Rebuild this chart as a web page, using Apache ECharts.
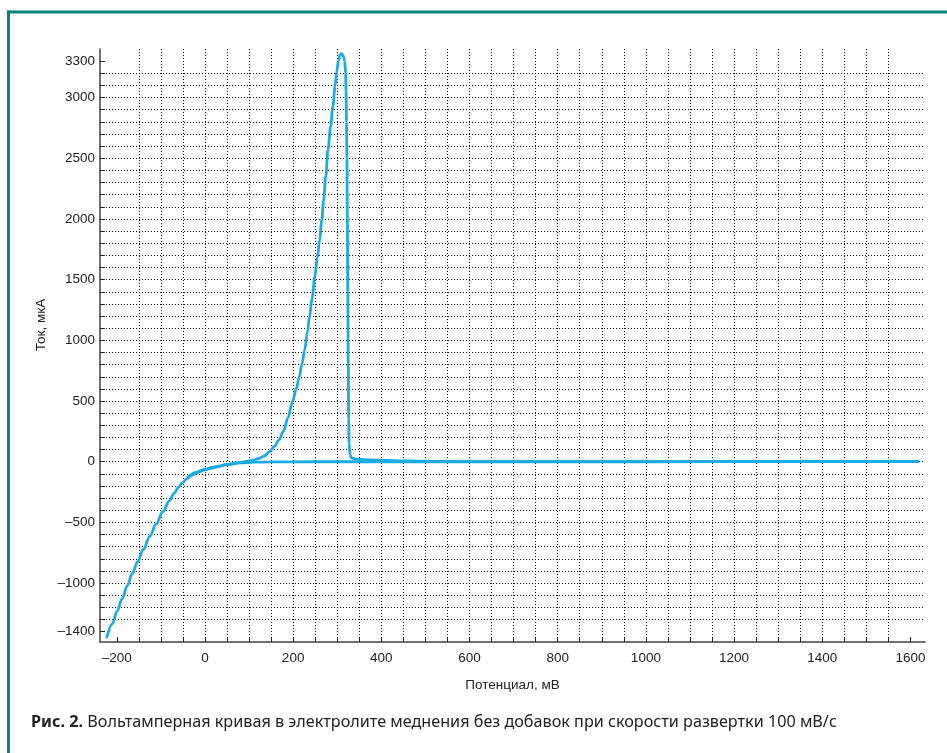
<!DOCTYPE html>
<html>
<head>
<meta charset="utf-8">
<style>html,body{margin:0;padding:0;background:#fff;}#c{width:947px;height:753px;}</style>
<script src="https://cdn.jsdelivr.net/npm/echarts@6/dist/echarts.min.js"></script>
</head>
<body>
<div id="c"></div>
<script>
// Forward scan (potential, mV) and current (µA)
const forwardPotential = [-223,-210,-199,-188,-176,-165,-153,-140,-125,-111,-95,-81,-70,-60,-51,-40,-30,-20,-10,0,15,30,50,65,80,95,110,122,135,146,158,168,178,188,199,207,214,220,226,232,237,243,249,255,260,265,269,274,279,285,290,295,299,303,306,309,312,315,317,319,320,321,322,323,324,325,326,327,329,332,340,351,375,396,430,460,495,550,650,900,1200,1620];
const forwardCurrent = [-1454,-1335,-1230,-1130,-1020,-922,-825,-725,-615,-515,-410,-322,-260,-210,-172,-137,-112,-94,-79,-67,-53,-40,-23,-13,-5,4,14,27,48,82,128,180,250,360,500,600,700,805,918,1060,1190,1350,1520,1680,1825,1990,2150,2350,2570,2760,2925,3090,3220,3305,3345,3362,3355,3330,3300,3200,3050,2800,2500,2000,1400,800,350,150,60,32,24,19,15,13,9,6,4,2,1,1,1,1];
// Reverse scan
const reversePotential = [1620,1400,1000,700,500,350,250,150,110,80,50,20,0,-20,-40];
const reverseCurrent = [1,1,0,0,0,0,0,-1,-4,-10,-24,-44,-62,-88,-133];

const xLabelValues = [-200,0,200,400,600,800,1000,1200,1400,1600];
const yLabelValues = [-1400,-1000,-500,0,500,1000,1500,2000,2500,3000,3300];
const xTickValues = []; for (let v = -200; v <= 1600; v += 50) xTickValues.push(v);
const yTickValues = []; for (let v = -1400; v <= 3300; v += 100) yTickValues.push(v);

const xTitle = 'Потенциал, мВ';
const yTitle = 'Ток, мкА';
const captionBold = 'Рис. 2.';
const captionText = ' Вольтамперная кривая в электролите меднения без добавок при скорости развертки 100 мВ/с';

const fwd = forwardPotential.map((x, i) => [x, forwardCurrent[i]]);
const rev = reversePotential.map((x, i) => [x, reverseCurrent[i]]);

const fmt = v => (v < 0 ? '–' + Math.abs(v) : String(v));
const labelFont = {fontFamily: 'Liberation Sans', fontSize: 13.5, color: '#222'};
const gridLine = {show: true, showMinLine: false, showMaxLine: false, lineStyle: {color: '#111', width: 1, type: [1, 2]}};

const chart = echarts.init(document.getElementById('c'), null, {renderer: 'canvas'});
chart.setOption({
  animation: false,
  backgroundColor: '#fff',
  grid: {left: 100, top: 49, right: 22, bottom: 111, containLabel: false, outerBoundsMode: 'none'},
  xAxis: {
    type: 'value', min: -238, max: 1633,
    name: xTitle, nameLocation: 'middle', nameGap: 36,
    nameTextStyle: Object.assign({}, labelFont),
    axisLine: {show: true, onZero: false, lineStyle: {color: '#444', width: 1.5}},
    axisTick: {show: true, inside: true, length: 5, customValues: xTickValues, lineStyle: {color: '#222', width: 1}},
    axisLabel: Object.assign({margin: 9, customValues: xLabelValues, formatter: fmt, showMinLabel: true, showMaxLabel: true}, labelFont),
    splitLine: gridLine
  },
  yAxis: {
    type: 'value', min: -1485, max: 3400,
    axisLine: {show: true, onZero: false, lineStyle: {color: '#444', width: 1.5}},
    axisTick: {show: true, inside: true, length: 5, customValues: yTickValues, lineStyle: {color: '#222', width: 1}},
    axisLabel: Object.assign({margin: 5, customValues: yLabelValues, formatter: fmt}, labelFont),
    splitLine: gridLine
  },
  series: [
    {type: 'line', data: fwd, showSymbol: false, smooth: 0.35, smoothMonotone: 'x', lineStyle: {color: '#1aabe4', width: 2.8}, z: 3},
    {type: 'line', data: rev, showSymbol: false, smooth: 0.35, smoothMonotone: 'x', lineStyle: {color: '#1aabe4', width: 2.8}, z: 3}
  ],
  graphic: [
    {type: 'rect', shape: {x: 7, y: 10.5, width: 3, height: 760}, style: {fill: '#00857c'}, silent: true},
    {type: 'rect', shape: {x: 7, y: 10.5, width: 960, height: 3}, style: {fill: '#00857c'}, silent: true},
    {type: 'text', x: 41, y: 325, rotation: Math.PI / 2,
      style: {text: yTitle, font: '13.5px "Liberation Sans"', fill: '#222', align: 'center', verticalAlign: 'middle'}},
    {type: 'text', x: 31, y: 722,
      style: {text: '{b|' + captionBold + '}{n|' + captionText + '}', verticalAlign: 'middle', align: 'left',
        rich: {
          b: {fontFamily: 'Noto Sans', fontWeight: 'bold', fontSize: 16.2, fill: '#222'},
          n: {fontFamily: 'Noto Sans', fontSize: 16.2, fill: '#222'}
        }}}
  ]
});
</script>
</body>
</html>
